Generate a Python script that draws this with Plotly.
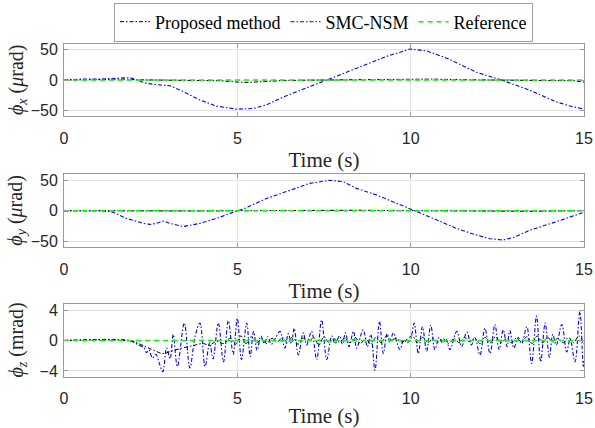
import plotly.graph_objects as go

# ---------------- data ----------------
x_ticks = [0, 5, 10, 15]

# phi_x (micro rad)
tx_smc = [0, 0.56, 1.0, 1.4, 1.71, 1.9, 2.1, 2.38, 2.77, 3.06, 3.35, 3.92, 4.4, 4.98, 5.46,
          5.84, 6.33, 6.81, 7.67, 8.44, 9.31, 9.98, 10.46, 11.04, 11.9, 12.67, 13.44, 14.2, 14.6, 15.0]
phix_smc = [0, 1.7, 1.5, 2.5, 4.4, 3.9, 0, -5.6, -8.3, -9.4, -16.7, -33, -43, -48, -47,
            -41, -28, -17, 2.8, 19.4, 39, 51, 48, 36, 12.8, -1, -17, -36, -43, -48]
tx_prop = [0, 1.0, 1.7, 2.2, 3.0, 4.0, 4.5, 5.0, 5.3, 5.8, 6.3, 7.0, 8.0, 9.0, 10.0, 10.6,
           11.5, 12.5, 13.5, 14.3, 14.7, 15.0]
phix_prop = [0, 0.5, 1.5, 0.3, 0, -0.3, -1.2, -3.5, -4.0, -2.5, -1.0, -0.2, 0.3, 1.0, 1.8, 1.5,
             0.5, 0, -0.3, -0.5, -1.2, -3.5]

# phi_y (micro rad)
ty_smc = [0, 1.13, 1.42, 1.8, 2.29, 2.48, 2.67, 2.87, 3.06, 3.44, 3.92, 4.4, 4.88, 5.17, 5.84,
          6.55, 7.09, 7.67, 8.06, 8.44, 9.02, 9.6, 10.08, 10.65, 11.32, 11.9, 12.29, 12.67,
          12.96, 13.44, 14.2, 15.0]
phiy_smc = [0, 0, -2.7, -12.6, -20.8, -22.4, -20.8, -17, -20.8, -26, -20.8, -12.6, -2.7, 2.7, 20,
            34, 44.8, 50, 47.5, 36.6, 25.7, 12, 1, -12.6, -29, -40, -46, -48,
            -44, -32, -18, -2.7]
ty_prop = [0, 2.0, 3.0, 4.0, 5.0, 6.0, 7.5, 8.5, 9.5, 10.5, 11.5, 12.5, 13.0, 13.5, 14.5, 15.0]
phiy_prop = [0, -0.3, -1.0, -0.5, 0, 0.5, 1.2, 0.8, 0.2, -0.3, -0.8, -1.0, -1.8, -1.0, -0.3, 0]

# phi_z (mrad)
tz_smc = [0, 1.8, 2.0, 2.15, 2.3, 2.38, 2.45, 2.55, 2.65, 2.75, 2.85, 2.96, 3.06, 3.15, 3.27,
          3.47, 3.63, 3.78, 3.92, 4.07, 4.2, 4.3, 4.45, 4.6, 4.74, 4.88, 5.0, 5.12, 5.27, 5.37,
          5.47, 5.57, 5.68, 5.78, 5.88, 5.98, 6.1, 6.23, 6.37, 6.47, 6.56, 6.64, 6.76, 6.9, 7.0,
          7.14, 7.29, 7.43, 7.58, 7.72, 7.82, 7.95, 8.03, 8.12, 8.22, 8.35, 8.44, 8.63, 8.75,
          8.85, 8.97, 9.1, 9.21, 9.32, 9.4, 9.5, 9.69, 9.8, 9.9, 10.0, 10.1, 10.22, 10.34,
          10.46, 10.58, 10.7, 10.82, 10.92, 11.02, 11.13, 11.33, 11.47, 11.62, 11.75, 11.85,
          12.0, 12.14, 12.29, 12.43, 12.55, 12.67, 12.78, 12.86, 12.98, 13.1, 13.2, 13.35,
          13.49, 13.63, 13.75, 13.88, 14.0, 14.1, 14.2, 14.36, 14.5, 14.6, 14.74, 14.88,
          14.98, 15.0]
phiz_smc = [0, 0, -0.2, -0.6, -0.9, -1.6, -1.2, -2.3, -1.8, -3.0, -4.1, -1.0, -2.4, 0.8, -3.4,
            2.3, -3.6, 0.5, 2.3, -3.4, -0.3, -2.4, 2.3, -2.8, 2.6, -1.8, 2.9, -2.5, 2.3, -2.1,
            1.2, -1.3, 0.6, -0.4, 0.5, -0.5, 0.3, 1.2, -1.0, 0.9, -0.4, 1.6, -1.9, 1.0, -0.6,
            1.2, -2.5, 2.7, -2.5, 0.6, -0.4, 0.6, -0.5, 1.0, -0.8, 1.2, -1.0, 1.4, -0.8,
            0.8, -3.9, 2.5, -1.7, 0.9, -0.2, 1.0, -1.2, 0.1, -0.3, 0.2, 2.3, -1.7, 1.8,
            -1.4, 2.0, -1.2, 0.4, -0.3, 0.2, -1.2, 1.2, -0.8, 1.1, -0.6, 0.4,
            -1.9, 1.6, -1.7, 2.1, -1.2, 1.4, -0.8, 1.3, -1.0, 0.4, -0.4, 1.8,
            -3.0, 3.2, -2.8, 2.3, -2.2, 0.8, -0.6, 2.1, -1.5, 0.2, -2.8, 3.8,
            -3.4, -2.6]
tz_prop = [0, 1.9, 2.2, 2.5, 2.85, 3.1, 3.4, 3.7, 4.0, 4.2, 4.4, 4.6, 4.8,
           4.95, 5.1, 5.25, 5.4, 5.55, 5.7, 5.85, 6.0, 6.15, 6.3, 6.45, 6.6, 6.75, 6.9, 7.05,
           7.2, 7.35, 7.5, 7.65, 7.8, 7.95, 8.1, 8.25, 8.4, 8.55, 8.7, 8.85, 9.0, 9.15, 9.3,
           9.45, 9.6, 9.75, 9.9, 10.05, 10.2, 10.35, 10.5, 10.65, 10.8, 10.95, 11.1, 11.25,
           11.4, 11.55, 11.7, 11.85, 12.0, 12.15, 12.3, 12.45, 12.6, 12.75, 12.9, 13.05, 13.2,
           13.35, 13.5, 13.65, 13.8, 13.95, 14.1, 14.25, 14.4, 14.55, 14.7, 14.85, 15.0]
phiz_prop = [0, 0, -0.5, -1.1, -1.7, -1.4, -1.0, -0.7, -0.4, -0.6,
             -0.1, -0.4, 0.3, -0.5, 0.6, -0.4, 0.5, -0.3, 0.2, -0.4,
             0.3, -0.2, 0.4, -0.3, 0.5, -0.5, 0.3, -0.2, 0.4, -0.6,
             0.5, -0.3, 0.2, -0.2, 0.3, -0.3, 0.4, -0.4, 0.3, -0.5,
             0.4, -0.3, 0.6, 0.1, 0.3, -0.2, 0.2, 0.6, -0.3, 0.4,
             -0.3, 0.3, -0.2, 0.2, -0.4, 0.3, -0.3, 0.4, -0.2, 0.3,
             -0.4, 0.4, -0.3, 0.5, -0.3, 0.2, -0.3, 0.3, -0.2, 0.5,
             -0.4, 0.6, -0.3, 0.4, -0.2, 0.3, -0.3, 0.4, -0.3, 0.6,
             -0.5]

t_ref = [0, 15]
ref_vals = [0, 0]

names = ["Proposed method", "SMC-NSM", "Reference"]
ylabels = ["<i>ϕ</i><sub><i>x</i></sub> (<i>μ</i>rad)",
           "<i>ϕ</i><sub><i>y</i></sub> (<i>μ</i>rad)",
           "<i>ϕ</i><sub><i>z</i></sub> (mrad)"]
xlabel = "Time (s)"

# ---------------- figure ----------------
W, H = 595, 428
fig = go.Figure()

series = [
    (tx_prop, phix_prop, tx_smc, phix_smc, "linear"),
    (ty_prop, phiy_prop, ty_smc, phiy_smc, "linear"),
    (tz_prop, phiz_prop, tz_smc, phiz_smc, "spline"),
]
dashdot = "4px,2px,1.5px,2px"
for k, (tp, vp, ts, vs, shape) in enumerate(series):
    xa = "x" if k == 0 else f"x{k+1}"
    ya = "y" if k == 0 else f"y{k+1}"
    fig.add_trace(go.Scatter(x=ts, y=vs, mode="lines", name=names[1], xaxis=xa, yaxis=ya,
                             line=dict(color="#0000FF", width=1.1, dash=dashdot, shape=shape),
                             showlegend=False, legendrank=2))
    fig.add_trace(go.Scatter(x=tp, y=vp, mode="lines", name=names[0], xaxis=xa, yaxis=ya,
                             line=dict(color="#000000", width=1.0, dash=dashdot, shape=shape),
                             showlegend=(k == 0), legendrank=1))
    if k == 0:
        fig.add_trace(go.Scatter(x=[None], y=[None], mode="lines", name=names[1], xaxis=xa, yaxis=ya,
                                 line=dict(color="#0000FF", width=1.1, dash=dashdot),
                                 showlegend=True, legendrank=2))
    fig.add_trace(go.Scatter(x=t_ref, y=ref_vals, mode="lines", name=names[2], xaxis=xa, yaxis=ya,
                             line=dict(color="#00FF00", width=1.4, dash="5px,4px"),
                             showlegend=(k == 0), legendrank=3))

xdom = [64 / W, 584 / W]
ypix = [(43.6, 116.4), (174.1, 247.3), (304.3, 376.7)]
yranges = [[-60, 60], [-60, 60], [-4.75, 4.75]]
yticks = [[-50, 0, 50], [-50, 0, 50], [-4, 0, 4]]
tickfont = dict(family="Liberation Sans, Arial", size=16, color="#262626")
titlefont_x = dict(family="Liberation Serif", size=21, color="#262626")
axcommon = dict(showline=True, linecolor="#9a9a9a", linewidth=1, mirror="ticks",
                ticks="inside", ticklen=4, tickcolor="#9a9a9a",
                showgrid=True, gridcolor="#e2e2e2", gridwidth=1, automargin=False,
                zeroline=False, tickfont=tickfont)
layout = {}
for k in range(3):
    top, bot = ypix[k]
    ydom = [1 - bot / H, 1 - top / H]
    sx = "xaxis" if k == 0 else f"xaxis{k+1}"
    sy = "yaxis" if k == 0 else f"yaxis{k+1}"
    layout[sx] = dict(domain=xdom, range=[0, 15], tickvals=x_ticks,
                      anchor="y" if k == 0 else f"y{k+1}", ticklabelstandoff=7,
                      title=dict(text=xlabel, font=titlefont_x, standoff=6), **axcommon)
    layout[sy] = dict(domain=ydom, range=yranges[k], tickvals=yticks[k],
                      anchor="x" if k == 0 else f"x{k+1}", ticklabelstandoff=2, **axcommon)

annotations = []
for k in range(3):
    top, bot = ypix[k]
    annotations.append(dict(text=ylabels[k], xref="paper", yref="paper", x=17 / W,
                            y=1 - (top + bot) / 2 / H, xanchor="center", yanchor="middle",
                            textangle=-90, showarrow=False,
                            font=dict(family="Liberation Serif", size=20, color="#262626")))

fig.update_layout(
    template="none",
    width=W, height=H, margin=dict(l=0, r=0, t=0, b=0, autoexpand=False),
    paper_bgcolor="white", plot_bgcolor="white",
    annotations=annotations,
    legend=dict(orientation="h", x=323.5 / W, xanchor="center", y=1 - 2.5 / H, yanchor="top",
                bordercolor="#a0a0a0", borderwidth=1, bgcolor="white",
                font=dict(family="Liberation Serif", size=18, color="#000000"),
                itemwidth=30, tracegroupgap=0),
    showlegend=True,
    **layout,
)

fig.write_html("out.html")
